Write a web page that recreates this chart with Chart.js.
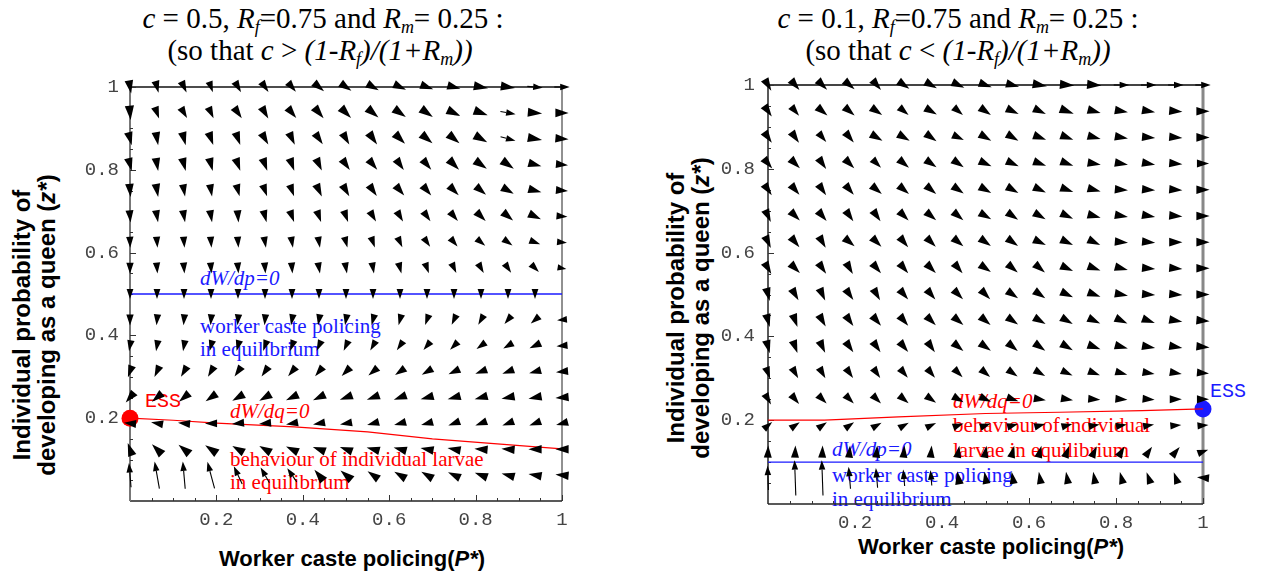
<!DOCTYPE html>
<html><head><meta charset="utf-8">
<script src="https://cdn.jsdelivr.net/npm/chart.js@4.4.1/dist/chart.umd.min.js"></script>
<style>
html,body{margin:0;padding:0;background:#fff;}
body{width:1263px;height:575px;position:relative;overflow:hidden;}
canvas{position:absolute;top:0;z-index:2;}
.t{position:absolute;white-space:nowrap;z-index:1;line-height:1;}
.serif{font-family:"Liberation Serif","Times New Roman",serif;}
.sans{font-family:"Liberation Sans",Arial,sans-serif;font-weight:bold;color:#000;}
.mono{font-family:"Liberation Mono","Courier New",monospace;}
sub{font-size:62%;vertical-align:-0.28em;line-height:0;}
</style>
</head>
<body>
<canvas id="cL" width="620" height="575" style="left:0px"></canvas>
<canvas id="cR" width="623" height="575" style="left:640px"></canvas>
<script>
// ---------- grid of the vector field ----------
const gridP = [0,0.0625,0.125,0.1875,0.25,0.3125,0.375,0.4375,0.5,0.5625,0.625,0.6875,0.75,0.8125,0.875,0.9375,1];
const gridZ = [1,0.9375,0.875,0.8125,0.75,0.6875,0.625,0.5625,0.5,0.4375,0.375,0.3125,0.25,0.1875,0.125,0.0625];
const minorTicks = [0.05,0.1,0.15,0.25,0.3,0.35,0.45,0.5,0.55,0.65,0.7,0.75,0.85,0.9,0.95];
const majorTicks = [0.2,0.4,0.6,0.8,1];

// ---------- left panel (c = 0.5) : arrow directions (deg) and lengths (px), rows top->bottom ----------
const leftAngles = [
 [-80,-75,-65,-70,-60,-55,-50,-40,-35,-30,-25,-20,-15,-10,-8,-5,0],
 [-85,-70,-60,-65,-55,-60,-50,-50,-45,-40,-35,-35,-25,-20,-10,-5,0],
 [-75,-80,-75,-70,-70,-60,-65,-55,-60,-55,-45,-40,-40,-30,-15,-10,-5],
 [-75,-80,-75,-75,-70,-70,-70,-65,-55,-50,-55,-50,-45,-35,-35,-15,-5],
 [-85,-80,-80,-80,-75,-70,-70,-65,-60,-55,-50,-50,-45,-40,-30,-15,-5],
 [-85,-80,-80,-80,-85,-75,-70,-70,-70,-60,-60,-55,-50,-45,-40,-25,-5],
 [-88,-85,-85,-85,-85,-80,-80,-80,-75,-70,-65,-55,-50,-40,-35,-20,-5],
 [-90,-85,-85,-85,-85,-85,-85,-80,-80,-80,-75,-70,-65,-60,-55,-45,-10],
 [-90,-90,-90,-90,-90,-90,-90,-90,-90,-90,-90,-90,-90,-90,-90,-90,-90],
 [-90,-95,-95,-95,-95,-95,-100,-100,-100,-105,-105,-110,-115,-120,-130,-140,-175],
 [-100,-100,-100,-105,-105,-110,-110,-115,-115,-120,-125,-130,-135,-145,-150,-155,-175],
 [-110,-115,-120,-120,-125,-125,-130,-130,-135,-140,-145,-150,-155,-160,-160,-165,-175],
 [-130,-140,-140,-145,-150,-150,-155,-155,-160,-160,-160,-165,-165,-165,-170,-170,-175],
 [175,170,175,180,-175,-175,-170,-170,-170,-165,-165,-165,-160,-160,-160,-160,-165],
 [110,135,140,145,150,150,155,160,160,165,165,170,170,175,175,180,180],
 [95,100,95,105,115,120,125,130,140,145,150,150,155,160,165,170,175]
];
const leftLengths = [
 [12,11,11,10,11,11,11,12,12,12,12,12,12,13,13,14,14],
 [13,11,11,11,12,12,12,13,13,13,13,13,13,13,14,13,12],
 [12,12,12,12,12,12,12,12,12,13,13,13,13,13,14,13,12],
 [12,12,12,12,12,12,12,12,12,12,12,12,13,13,13,12,11],
 [12,12,11,11,11,11,11,12,12,12,12,12,12,12,12,12,11],
 [11,11,11,11,11,11,11,11,11,11,11,11,11,12,12,12,10],
 [10,10,10,10,10,10,10,10,10,10,10,10,10,10,10,10,9],
 [10,10,10,10,10,10,10,10,10,10,10,10,10,10,10,10,8],
 [9,9,9,9,9,9,9,9,9,9,9,9,9,9,9,9,0],
 [10,10,10,10,10,10,10,10,10,10,10,10,10,10,10,10,9],
 [10,10,10,10,10,10,10,10,10,10,10,10,10,10,10,11,10],
 [11,11,11,11,11,11,11,11,11,11,11,11,11,11,11,11,11],
 [12,12,12,12,12,12,12,12,12,12,12,12,12,12,12,12,12],
 [11,11,11,11,11,11,11,11,11,11,11,11,11,11,11,11,11],
 [12,13,13,13,12,12,12,12,12,12,12,12,12,12,12,12,12],
 [22,25,25,25,18,16,15,13,13,12,12,12,12,12,12,12,12]
];
const leftDqP = [0,0.1,0.2,0.38,0.55,0.7,0.85,1];
const leftDqZ = [0.2,0.195,0.188,0.179,0.167,0.15,0.138,0.126];
const leftDpP = [0,1];
const leftDpZ = [0.5,0.5];
const leftEss = {x:0, y:0.2};

// ---------- right panel (c = 0.1) ----------
const rightAngles = [
 [-60,-50,-45,-40,-50,-35,-30,-25,-20,-15,-10,-5,-5,0,0,0,0],
 [-55,-50,-40,-40,-35,-40,-30,-40,-35,-25,-25,-20,-15,-10,-10,-5,0],
 [-55,-55,-50,-50,-30,-30,-35,-25,-30,-30,-20,-20,-15,-10,-5,-5,0],
 [-50,-45,-55,-45,-45,-40,-35,-35,-25,-25,-20,-20,-10,-10,-10,-5,0],
 [-55,-50,-55,-50,-40,-40,-40,-35,-30,-30,-25,-20,-15,-5,-5,-5,0],
 [-65,-45,-50,-55,-55,-45,-40,-40,-30,-35,-30,-25,-15,-10,-10,-5,0],
 [-65,-50,-60,-40,-45,-50,-45,-40,-35,-35,-25,-25,-25,-5,-5,0,0],
 [-60,-45,-55,-60,-50,-50,-45,-50,-35,-40,-40,-25,-20,-15,-5,-5,0],
 [-75,-60,-65,-55,-60,-50,-50,-45,-45,-35,-35,-25,-20,-10,-5,-5,0],
 [-75,-70,-60,-55,-50,-50,-45,-40,-40,-35,-30,-30,-25,-25,-20,-10,-5],
 [-75,-70,-65,-55,-55,-50,-55,-40,-35,-40,-35,-30,-20,-15,-10,-10,-5],
 [-70,-60,-60,-55,-55,-50,-50,-45,-40,-35,-30,-25,-20,-15,-10,-10,-5],
 [-60,-50,-45,-45,-45,-40,-35,-30,-25,-20,-10,-10,-5,-5,-5,0,0],
 [40,35,35,35,30,30,25,20,20,15,15,15,10,10,10,5,5],
 [88,88,88,85,85,85,85,80,80,75,75,70,65,60,55,50,20],
 [92,92,92,95,95,95,95,100,100,100,100,100,100,105,110,110,175]
];
const rightLengths = [
 [12,12,12,12,12,12,12,12,12,12,13,13,13,14,14,14,14],
 [12,11,12,12,12,11,12,11,12,12,12,13,12,12,12,12,12],
 [12,12,11,12,12,12,12,11,12,12,12,12,12,12,12,12,12],
 [12,12,12,12,11,12,12,12,12,12,12,12,12,12,12,12,11],
 [12,12,12,12,12,12,12,12,12,12,12,12,12,12,12,12,12],
 [12,12,12,12,12,12,12,12,12,12,12,12,12,12,12,12,12],
 [12,12,12,12,12,12,12,12,12,12,12,12,12,12,12,12,12],
 [12,12,12,12,12,12,12,12,12,12,12,12,12,12,12,12,12],
 [12,12,12,12,12,12,12,12,12,12,12,12,12,12,12,12,12],
 [12,12,12,12,12,12,12,12,12,12,12,12,12,12,12,12,12],
 [12,12,12,12,12,12,12,12,12,12,12,12,12,12,12,12,12],
 [11,11,11,11,11,11,11,11,11,11,11,11,11,11,11,11,11],
 [11,11,11,11,11,11,11,11,11,11,11,11,11,11,11,11,11],
 [10,10,10,10,10,10,10,10,10,10,10,10,10,10,10,10,10],
 [11,11,11,11,11,11,11,11,11,11,11,11,11,11,11,11,10],
 [22,32,32,20,18,15,14,12,11,11,11,11,11,11,11,11,11]
];
const rightDqP = [0,0.13,0.3,0.5,0.67,0.86,1];
const rightDqZ = [0.2,0.2,0.208,0.216,0.219,0.223,0.227];
const rightDpP = [0,1];
const rightDpZ = [0.1,0.1];
const rightEss = {x:1, y:0.227};

const RED = '#ff0000', BLUE = '#1a1aff';

function pts(ps, zs){ return ps.map((p,i)=>({x:p, y:zs[i]})); }

function vfPlugin(angles, lengths){
  return {
    id:'vf',
    afterDatasetsDraw(chart){
      const ctx = chart.ctx, xs = chart.scales.x, ys = chart.scales.y;
      ctx.save();
      ctx.fillStyle = '#000'; ctx.strokeStyle = '#000'; ctx.lineWidth = 1.1;
      gridZ.forEach((z, r) => {
        gridP.forEach((p, c) => {
          let L = lengths[r][c]; if (!L) return;
          L *= 1.1;
          const a = angles[r][c] * Math.PI / 180;
          const dx = Math.cos(a), dy = -Math.sin(a);
          const cx = xs.getPixelForValue(p), cy = ys.getPixelForValue(z);
          const x1 = cx + dx*L/2, y1 = cy + dy*L/2;
          const x0 = cx - dx*L/2, y0 = cy - dy*L/2;
          const h = L <= 14.5 ? L : 9.5;
          const w = h * 0.28 + 0.6;
          const bx = x1 - dx*h, by = y1 - dy*h;
          if (L > h) { ctx.beginPath(); ctx.moveTo(x0,y0); ctx.lineTo(bx,by); ctx.stroke(); }
          ctx.beginPath();
          ctx.moveTo(x1,y1);
          ctx.lineTo(bx - dy*w, by + dx*w);
          ctx.lineTo(bx + dy*w, by - dx*w);
          ctx.closePath(); ctx.fill();
        });
      });
      ctx.restore();
    }
  };
}

function framePlugin(st){
  return {
    id:'frame',
    beforeDatasetsDraw(chart){
      const ctx = chart.ctx, a = chart.chartArea, xs = chart.scales.x, ys = chart.scales.y;
      ctx.save();
      const seg = (x0,y0,x1,y1,col,w) => { ctx.strokeStyle=col; ctx.lineWidth=w; ctx.beginPath(); ctx.moveTo(x0,y0); ctx.lineTo(x1,y1); ctx.stroke(); };
      seg(a.left, a.top, a.right, a.top, st.top[0], st.top[1]);
      seg(a.right, a.top, a.right, a.bottom, st.right[0], st.right[1]);
      seg(a.left, a.bottom, a.right, a.bottom, st.bottom[0], st.bottom[1]);
      seg(a.left, a.top, a.left, a.bottom, st.left[0], st.left[1]);
      ctx.strokeStyle = '#333'; ctx.lineWidth = 1;
      minorTicks.forEach(v => {
        const px = Math.round(xs.getPixelForValue(v)) + 0.5, py = Math.round(ys.getPixelForValue(v)) + 0.5;
        ctx.beginPath(); ctx.moveTo(px, a.bottom); ctx.lineTo(px, a.bottom - 3); ctx.stroke();
        ctx.beginPath(); ctx.moveTo(a.left, py); ctx.lineTo(a.left + 3, py); ctx.stroke();
      });
      majorTicks.forEach(v => {
        const px = Math.round(xs.getPixelForValue(v)) + 0.5, py = Math.round(ys.getPixelForValue(v)) + 0.5;
        ctx.beginPath(); ctx.moveTo(px, a.bottom); ctx.lineTo(px, a.bottom - 6); ctx.stroke();
        ctx.beginPath(); ctx.moveTo(a.left, py); ctx.lineTo(a.left + 6, py); ctx.stroke();
      });
      ctx.restore();
    }
  };
}

function makePanel(id, g){
  const tickFont = {family:'"Liberation Mono","Courier New",monospace', size:19};
  const fmt = v => (Math.abs(v) < 1e-9 ? '' : String(+v.toFixed(1)));
  return new Chart(document.getElementById(id), {
    type:'scatter',
    data:{datasets:[
      {type:'line', data:pts(g.dpP, g.dpZ), borderColor:BLUE, borderWidth:1.3, pointRadius:0, tension:0},
      {type:'line', data:pts(g.dqP, g.dqZ), borderColor:RED, borderWidth:1.2, pointRadius:0, tension:0},
      {type:'scatter', data:[g.ess], pointRadius:8.5, pointStyle:'circle', backgroundColor:g.essColor, borderColor:g.essColor, borderWidth:0, clip:false}
    ]},
    options:{
      responsive:false, animation:false, devicePixelRatio:1,
      layout:{padding:{top:g.top, right:g.padRight, left:0, bottom:0}},
      plugins:{legend:{display:false}, tooltip:{enabled:false}, title:{display:false}},
      scales:{
        x:{type:'linear', min:0, max:1,
           grid:{display:false, drawTicks:false}, border:{display:false},
           ticks:{stepSize:0.2, padding:8, font:tickFont, color:'#444', callback:fmt, maxRotation:0, autoSkip:false},
           afterFit:s => { s.height = g.xH; }},
        y:{type:'linear', min:0, max:1,
           grid:{display:false, drawTicks:false}, border:{display:false},
           ticks:{stepSize:0.2, padding:g.yPad, font:tickFont, color:'#444', callback:fmt, autoSkip:false},
           afterFit:s => { s.width = g.yW; }}
      }
    },
    plugins:[framePlugin(g.frame), vfPlugin(g.angles, g.lengths)]
  });
}

makePanel('cL', {dpP:leftDpP, dpZ:leftDpZ, dqP:leftDqP, dqZ:leftDqZ, ess:leftEss, essColor:RED,
  top:87, padRight:58, xH:74, yW:130, yPad:11, angles:leftAngles, lengths:leftLengths,
  frame:{top:['#111',1.5], right:['#222',1], bottom:['#222',1.5], left:['#777',2]}});
makePanel('cR', {dpP:rightDpP, dpZ:rightDpZ, dqP:rightDqP, dqZ:rightDqZ, ess:rightEss, essColor:BLUE,
  top:85, padRight:60, xH:71, yW:128, yPad:13, angles:rightAngles, lengths:rightLengths,
  frame:{top:['#444',2], right:['#888',3], bottom:['#222',1.5], left:['#222',1.5]}});

// ---------- text ----------
const K = {serif:0.8375, sans:0.8465, mono:0.7665};
function txt(html, x, base, cls, size, opts){
  opts = opts || {};
  const d = document.createElement('div');
  d.className = 't ' + cls;
  d.innerHTML = html;
  d.style.fontSize = size + 'px';
  d.style.top = (base - K[cls] * size) + 'px';
  d.style.left = x + 'px';
  if (opts.center) d.style.transform = 'translateX(-50%)';
  if (opts.color) d.style.color = opts.color;
  if (opts.italic) d.style.fontStyle = 'italic';
  document.body.appendChild(d);
}
function vtxt(html, cx, cy, size){
  const d = document.createElement('div');
  d.className = 't sans';
  d.innerHTML = html;
  d.style.fontSize = size + 'px';
  d.style.left = cx + 'px';
  d.style.top = cy + 'px';
  d.style.transform = 'translate(-50%,-50%) rotate(-90deg)';
  document.body.appendChild(d);
}

// titles
txt('<i>c</i> = 0.5, <i>R<sub>f</sub></i>=0.75 and <i>R<sub>m</sub></i>= 0.25 :', 323, 28, 'serif', 29, {center:true});
txt('(so that <i>c</i> &gt; <i>(1-R<sub>f</sub>)/(1+R<sub>m</sub>))</i>', 320, 60, 'serif', 29, {center:true});
txt('<i>c</i> = 0.1, <i>R<sub>f</sub></i>=0.75 and <i>R<sub>m</sub></i>= 0.25 :', 958, 28, 'serif', 29, {center:true});
txt('(so that <i>c</i> &lt; <i>(1-R<sub>f</sub>)/(1+R<sub>m</sub>))</i>', 958, 60, 'serif', 29, {center:true});

// axis titles
vtxt('Individual probability of', 22, 325, 24);
vtxt('developing as a queen (<i>z*</i>)', 47, 325, 24);
vtxt('Individual probability of', 676, 308, 24);
vtxt('developing as a queen (<i>z*</i>)', 701, 308, 24);
txt('Worker caste policing(<i>P*</i>)', 352, 567, 'sans', 22, {center:true});
txt('Worker caste policing(<i>P*</i>)', 991, 555, 'sans', 22, {center:true});

// left annotations
txt('dW/dp=0', 200, 286, 'serif', 21, {color:BLUE, italic:true});
txt('worker caste policing', 200, 334, 'serif', 21, {color:BLUE});
txt('in equilibrium', 200, 357, 'serif', 21, {color:BLUE});
txt('ESS', 145, 407, 'mono', 20, {color:RED});
txt('dW/dq=0', 230, 419, 'serif', 21, {color:RED, italic:true});
txt('behaviour of individual larvae', 230, 467, 'serif', 21, {color:RED});
txt('in equilibrium', 230, 490, 'serif', 21, {color:RED});

// right annotations
txt('ESS', 1210, 397, 'mono', 20, {color:BLUE});
txt('dW/dq=0', 953, 409, 'serif', 21, {color:RED, italic:true});
txt('behaviour of individual', 953, 433, 'serif', 21, {color:RED});
txt('larvae in equilibrium', 953, 458, 'serif', 21, {color:RED});
txt('dW/dp=0', 832, 457, 'serif', 21, {color:BLUE, italic:true});
txt('worker caste policing', 832, 483, 'serif', 21, {color:BLUE});
txt('in equilibrium', 832, 507, 'serif', 21, {color:BLUE});
</script>
</body></html>
